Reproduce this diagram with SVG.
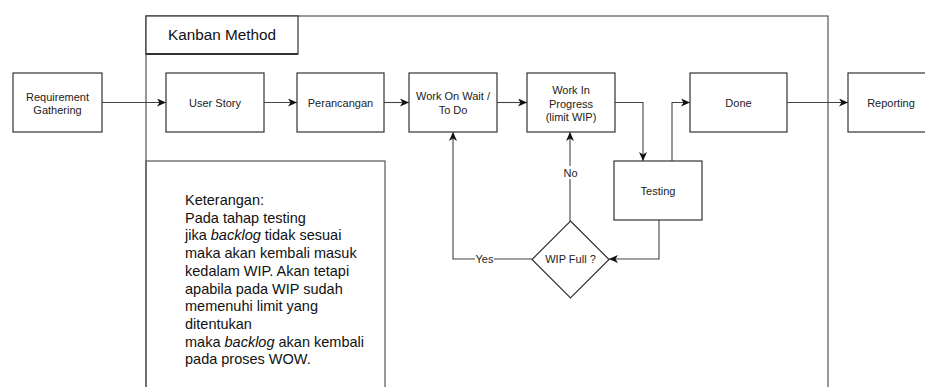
<svg xmlns="http://www.w3.org/2000/svg" width="925" height="387" viewBox="0 0 925 387">
  <style>
    .box { fill: #ffffff; stroke: #333333; stroke-width: 1.2; }
    .frame { fill: none; stroke: #555555; stroke-width: 1.2; }
    .lbl { font-family: "Liberation Sans", Arial, sans-serif; font-size: 11px; fill: #222222; text-anchor: middle; }
    .note { font-family: "Liberation Sans", Arial, sans-serif; font-size: 14.5px; fill: #111111; }
    .edge { fill: none; stroke: #444444; stroke-width: 1.1; marker-end: url(#arrow); }
    .plain { fill: none; stroke: #444444; stroke-width: 1.1; }
  </style>
  <defs>
    <marker id="arrow" viewBox="0 0 10 8" refX="9" refY="4" markerWidth="10" markerHeight="8" markerUnits="userSpaceOnUse" orient="auto">
      <path d="M0,0 L9,4 L0,8 L2.5,4 Z" fill="#111111"/>
    </marker>
  </defs>
  <rect width="925" height="387" fill="#ffffff"/>

  <!-- Kanban frame with title tab -->
  <g id="kanban">
    <rect class="frame" x="146" y="16" width="682" height="400"/>
    <rect class="box" x="146" y="16" width="152" height="38"/>
    <line x1="146" y1="54" x2="298" y2="54" stroke="#333333" stroke-width="1.8"/>
    <text x="168" y="40" font-family="Liberation Sans, Arial, sans-serif" font-size="15.3" fill="#111111">Kanban Method</text>
  </g>

  <!-- Notes panel -->
  <g id="keterangan">
    <rect class="frame" x="146" y="161" width="239" height="250"/>
    <text class="note">
      <tspan x="185" y="205">Keterangan:</tspan>
      <tspan x="185" y="222.7">Pada tahap testing</tspan>
      <tspan x="185" y="240.4">jika <tspan font-style="italic">backlog</tspan> tidak sesuai</tspan>
      <tspan x="185" y="258.1">maka akan kembali masuk</tspan>
      <tspan x="185" y="275.8">kedalam WIP. Akan tetapi</tspan>
      <tspan x="185" y="293.5">apabila pada WIP sudah</tspan>
      <tspan x="185" y="311.2">memenuhi limit yang</tspan>
      <tspan x="185" y="328.9">ditentukan</tspan>
      <tspan x="185" y="346.6">maka <tspan font-style="italic">backlog</tspan> akan kembali</tspan>
      <tspan x="185" y="364.3">pada proses WOW.</tspan>
    </text>
  </g>

  <!-- Connectors -->
  <g id="connectors">
    <path class="edge" d="M102,102.5 L166,102.5"/>
    <path class="edge" d="M264,102.5 L297,102.5"/>
    <path class="edge" d="M384,102.5 L409,102.5"/>
    <path class="edge" d="M497,102.5 L527,102.5"/>
    <path class="edge" d="M615,102.5 L643,102.5 L643,161"/>
    <path class="edge" d="M672,161 L672,102.5 L690,102.5"/>
    <path class="edge" d="M787,102.5 L848,102.5"/>
    <path class="edge" d="M659,220 L659,259 L609,259"/>
    <path class="edge" d="M570,221 L570,132"/>
    <path class="edge" d="M532,259 L453,259 L453,132"/>
    <rect x="563" y="166" width="15" height="13" fill="#ffffff"/>
    <text class="lbl" x="570.5" y="177" font-size="10">No</text>
    <rect x="475" y="253" width="19" height="12" fill="#ffffff"/>
    <text class="lbl" x="484.5" y="263" font-size="10">Yes</text>
  </g>

  <g id="requirement">
    <rect class="box" x="13" y="73" width="89" height="59"/>
    <text class="lbl"><tspan x="57.5" y="101">Requirement</tspan><tspan x="57.5" y="114">Gathering</tspan></text>
  </g>
  <g id="user-story">
    <rect class="box" x="166" y="73" width="98" height="59"/>
    <text class="lbl" x="215" y="107">User Story</text>
  </g>
  <g id="perancangan">
    <rect class="box" x="297" y="73" width="87" height="59"/>
    <text class="lbl" x="340.5" y="107">Perancangan</text>
  </g>
  <g id="work-on-wait">
    <rect class="box" x="409" y="73" width="88" height="59"/>
    <text class="lbl"><tspan x="453" y="100">Work On Wait /</tspan><tspan x="453" y="114">To Do</tspan></text>
  </g>
  <g id="work-in-progress">
    <rect class="box" x="527" y="73" width="88" height="59"/>
    <text class="lbl"><tspan x="571" y="94">Work In</tspan><tspan x="571" y="107.5">Progress</tspan><tspan x="571" y="121">(limit WIP)</tspan></text>
  </g>
  <g id="done">
    <rect class="box" x="690" y="73" width="97" height="59"/>
    <text class="lbl" x="738.5" y="107">Done</text>
  </g>
  <g id="reporting">
    <rect class="box" x="848" y="73" width="90" height="59"/>
    <text class="lbl" x="891" y="107">Reporting</text>
  </g>
  <g id="testing">
    <rect class="box" x="614" y="161" width="88" height="59"/>
    <text class="lbl" x="658" y="195">Testing</text>
  </g>
  <g id="wip-full">
    <polygon class="box" points="570.5,221 609,259.5 570.5,298 532,259.5"/>
    <text class="lbl" x="570.5" y="263">WIP Full ?</text>
  </g>
</svg>
